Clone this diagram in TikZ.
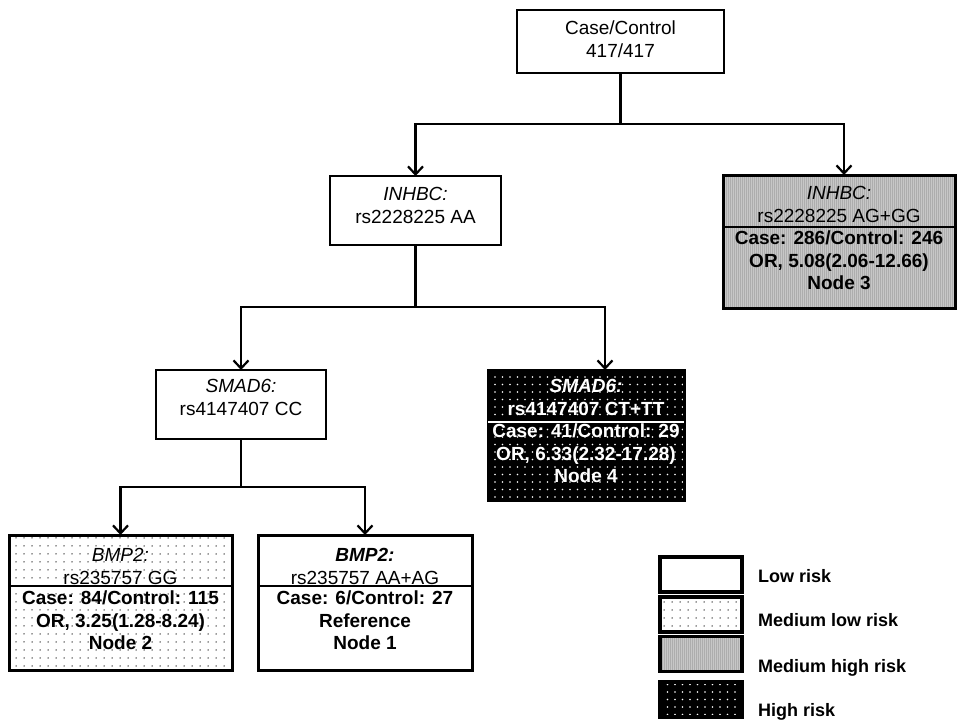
\documentclass[tikz,border=0pt]{standalone}
\usepackage{fontspec}
\setmainfont{Liberation Sans}
\usetikzlibrary{arrows.meta,patterns.meta}
\tikzset{
  thinbox/.style={draw, line width=1.2pt, fill=white, rectangle, inner sep=0pt, outer sep=0pt},
  termbox/.style={draw, line width=3pt, rectangle, inner sep=0pt, outer sep=0pt},
  legbox/.style={draw, line width=3.5pt, rectangle, inner sep=0pt, outer sep=0pt, minimum width=82pt, minimum height=35pt},
  txt/.style={align=center, font=\fontsize{19}{22.5}\selectfont, inner sep=0pt},
  legtxt/.style={anchor=base west, font=\fontsize{18}{21}\selectfont\bfseries, inner sep=0pt},
  stem/.style={line width=2.6pt},
  conn/.style={line width=2.6pt, -{Straight Barb[length=8pt,width=15pt,line width=2.2pt]}},
  divider/.style={line width=2.2pt},
  mlow/.style={pattern={Dots[distance=8pt,radius=0.75pt]}, pattern color=black!80},
  mhigh/.style={preaction={fill=black!22}, pattern={Lines[angle=90,distance=2pt,line width=0.5pt]}, pattern color=black!32},
  hrisk/.style={preaction={fill=black}, pattern={Dots[distance=7.5pt,radius=0.85pt]}, pattern color=white},
}
\begin{document}
\begin{tikzpicture}[x=1pt,y=-1pt]
\useasboundingbox (0,0) rectangle (957,722);

% boxes
\node[thinbox, minimum width=207pt, minimum height=63pt] (root) at (620.5,41.5) {};
\node[thinbox, minimum width=171pt, minimum height=69pt] (aa) at (415.5,210.5) {};
\node[termbox, mhigh, minimum width=232pt, minimum height=133pt] (n3) at (839,241.5) {};
\node[thinbox, minimum width=170pt, minimum height=69pt] (cc) at (241,404.5) {};
\node[termbox, hrisk, minimum width=196pt, minimum height=130pt] (n4) at (586,435) {};
\node[termbox, mlow, minimum width=223pt, minimum height=135pt] (n2) at (120.5,602.5) {};
\node[termbox, fill=white, minimum width=214pt, minimum height=135pt] (n1) at (365,602.5) {};

% dividers
\coordinate (d3) at (0,227);
\coordinate (d4) at (0,422);
\coordinate (d2) at (0,586);
\draw[divider] (n3.west |- d3) -- (n3.east |- d3);
\draw[divider, white] (n4.west |- d4) -- (n4.east |- d4);
\draw[divider] (n2.west |- d2) -- (n2.east |- d2);
\draw[divider] (n1.west |- d2) -- (n1.east |- d2);

% texts
\node[txt] (rootT) at (620.5,39.4) {Case/Control\\417/417};
\node[txt] (aaT) at (415.5,205.6) {\textit{INHBC:}\\rs2228225 AA};
\node[txt] (n3H) at (839,204.4) {\textit{INHBC:}\\rs2228225 AG+GG};
\node[txt, font=\fontsize{19}{22.5}\selectfont\bfseries] (n3B) at (839,260.6) {Case: 286/Control: 246\\OR, 5.08(2.06-12.66)\\Node 3};
\node[txt] (ccT) at (241,397.4) {\textit{SMAD6:}\\rs4147407 CC};
\node[txt, text=white, font=\fontsize{19}{22.5}\selectfont\bfseries] (n4H) at (586,397.4) {\textit{SMAD6:}\\rs4147407 CT+TT};
\node[txt, text=white, font=\fontsize{19}{22.5}\selectfont\bfseries] (n4B) at (586,453.6) {Case: 41/Control: 29\\OR, 6.33(2.32-17.28)\\Node 4};
\node[txt] (n2H) at (120.5,566.4) {\textit{BMP2:}\\rs235757 GG};
\node[txt, font=\fontsize{19}{22.5}\selectfont\bfseries] (n2B) at (120.5,620.6) {Case: 84/Control: 115\\OR, 3.25(1.28-8.24)\\Node 2};
\node[txt] (n1H) at (365,566.4) {\textbf{\textit{BMP2:}}\\rs235757 AA+AG};
\node[txt, font=\fontsize{19}{22.5}\selectfont\bfseries] (n1B) at (365,620.6) {Case: 6/Control: 27\\Reference\\Node 1};

% connectors
\path (root.south) ++(0,51) coordinate (j1);
\path (aa.south) ++(0,62) coordinate (j2);
\path (cc.south) ++(0,48) coordinate (j3);
\draw[stem] (root.south) -- (j1);
\draw[conn] (j1) -| (aa.north);
\draw[conn] (j1) -| ([xshift=5pt]n3.north);
\draw[stem] (aa.south) -- (j2);
\draw[conn] (j2) -| (cc.north);
\draw[conn] (j2) -| ([xshift=19pt]n4.north);
\draw[stem] (cc.south) -- (j3);
\draw[conn] (j3) -| (n2.north);
\draw[conn] (j3) -| (n1.north);

% legend
\node[legbox, fill=white] (l1) at (701,574.5) {};
\node[legbox, mlow] (l2) at (701,614.5) {};
\node[legbox, mhigh] (l3) at (701,654) {};
\node[legbox, hrisk] (l4) at (701,699.5) {};
\node[legtxt] (l1T) at (758,582) {Low risk};
\node[legtxt] (l2T) at (758,626) {Medium low risk};
\node[legtxt] (l3T) at (758,672) {Medium high risk};
\node[legtxt] (l4T) at (758,716) {High risk};
\end{tikzpicture}
\end{document}
